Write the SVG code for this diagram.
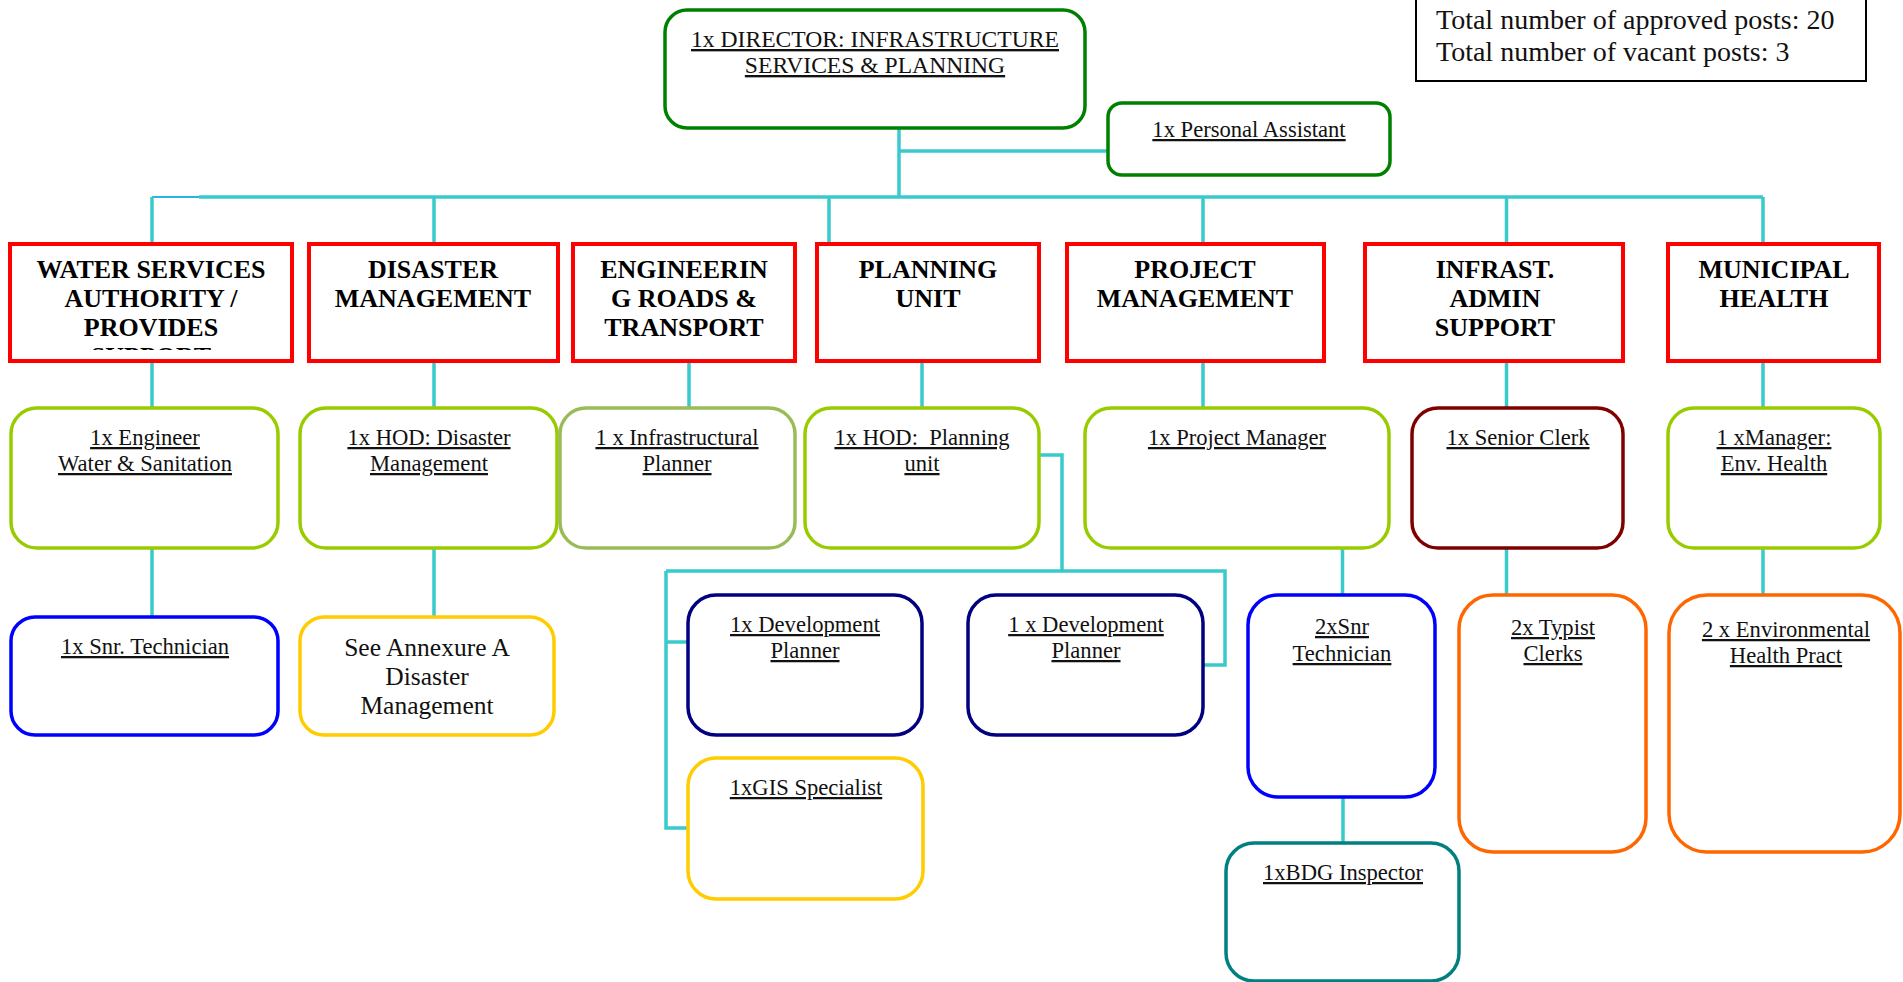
<svg xmlns="http://www.w3.org/2000/svg" width="1903" height="982" viewBox="0 0 1903 982">
  <defs>
    <style>
      .bg { fill: #ffffff; }
      .link { fill: none; stroke: #38cacd; stroke-width: 3.5; }
      .link-thin { fill: none; stroke: #2ab4e4; stroke-width: 2; }
      .unit { fill: #ffffff; stroke: #ff0000; stroke-width: 4; }
      .post { fill: #ffffff; stroke-width: 3.5; }
      .unit-label { font-family: "Liberation Serif", "Times New Roman", serif; font-weight: bold; font-size: 26px; fill: #000000; text-anchor: middle; }
      .post-label { font-family: "Liberation Serif", "Times New Roman", serif; font-size: 22.6px; fill: #111111; text-anchor: middle; text-decoration: underline; }
      .head-label { font-family: "Liberation Serif", "Times New Roman", serif; font-size: 23.6px; fill: #111111; text-anchor: middle; text-decoration: underline; }
      .plain-label { font-family: "Liberation Serif", "Times New Roman", serif; font-size: 25.5px; fill: #111111; text-anchor: middle; }
      .totals { font-family: "Liberation Serif", "Times New Roman", serif; font-size: 28px; fill: #111111; }
    </style>
    <clipPath id="water-clip">
      <rect x="10" y="244" width="282" height="106"/>
    </clipPath>
  </defs>

  <rect class="bg" x="0" y="0" width="1903" height="982"/>

  <!-- connectors -->
  <g id="connectors">
    <path class="link" d="M899 128 V197"/>
    <path class="link" d="M899 151 H1108"/>
    <path class="link" d="M199 197 H1763"/>
    <path class="link-thin" d="M199 197 H152"/>
    <path class="link" d="M152 197 V244"/>
    <path class="link" d="M434 197 V244"/>
    <path class="link" d="M829 197 V244"/>
    <path class="link" d="M1203 197 V244"/>
    <path class="link" d="M1506.5 197 V244"/>
    <path class="link" d="M1763 197 V244"/>

    <path class="link" d="M152 361 V408"/>
    <path class="link" d="M434 361 V408"/>
    <path class="link" d="M689 361 V408"/>
    <path class="link" d="M922 361 V408"/>
    <path class="link" d="M1203 361 V408"/>
    <path class="link" d="M1506.5 361 V408"/>
    <path class="link" d="M1763 361 V408"/>

    <path class="link" d="M152 548 V617"/>
    <path class="link" d="M434 548 V617"/>
    <path class="link" d="M1342.5 548 V595"/>
    <path class="link" d="M1506.5 548 V595"/>
    <path class="link" d="M1763 548 V595"/>

    <path class="link" d="M1039 455 H1062 V571"/>
    <path class="link" d="M666 571 H1225 V665 H1203"/>
    <path class="link" d="M666 571 V828 H688"/>
    <path class="link" d="M666 642 H688"/>

    <path class="link" d="M1343 797 V843"/>
  </g>

  <!-- summary box -->
  <g id="totals">
    <rect x="1416" y="-2" width="450" height="83" fill="#ffffff" stroke="#000000" stroke-width="2"/>
    <text class="totals" x="1436" y="29">Total number of approved posts: 20</text>
    <text class="totals" x="1436" y="61">Total number of vacant posts: 3</text>
  </g>

  <!-- top level -->
  <g id="director">
    <rect class="post" x="665" y="10" width="420" height="118" rx="22" stroke="#008000"/>
    <text class="head-label" x="875" y="47">1x DIRECTOR: INFRASTRUCTURE</text>
    <text class="head-label" x="875" y="73">SERVICES &amp; PLANNING</text>
  </g>

  <g id="personal-assistant">
    <rect class="post" x="1108" y="103" width="282" height="72" rx="14" stroke="#008000"/>
    <text class="post-label" x="1249" y="137">1x Personal Assistant</text>
  </g>

  <!-- units -->
  <g id="unit-water">
    <rect class="unit" x="10" y="244" width="282" height="117"/>
    <text class="unit-label" x="151" y="278">WATER SERVICES</text>
    <text class="unit-label" x="151" y="307">AUTHORITY /</text>
    <text class="unit-label" x="151" y="336">PROVIDES</text>
    <text class="unit-label" x="151" y="365" clip-path="url(#water-clip)">SUPPORT</text>
  </g>

  <g id="unit-disaster">
    <rect class="unit" x="309" y="244" width="249" height="117"/>
    <text class="unit-label" x="433" y="278">DISASTER</text>
    <text class="unit-label" x="433" y="307">MANAGEMENT</text>
  </g>

  <g id="unit-engineering">
    <rect class="unit" x="573" y="244" width="222" height="117"/>
    <text class="unit-label" x="684" y="278" font-size="27">ENGINEERIN</text>
    <text class="unit-label" x="684" y="307" font-size="27">G ROADS &amp;</text>
    <text class="unit-label" x="684" y="336" font-size="27">TRANSPORT</text>
  </g>

  <g id="unit-planning">
    <rect class="unit" x="817" y="244" width="222" height="117"/>
    <text class="unit-label" x="928" y="278" font-size="27">PLANNING</text>
    <text class="unit-label" x="928" y="307" font-size="27">UNIT</text>
  </g>

  <g id="unit-project">
    <rect class="unit" x="1067" y="244" width="257" height="117"/>
    <text class="unit-label" x="1195" y="278">PROJECT</text>
    <text class="unit-label" x="1195" y="307">MANAGEMENT</text>
  </g>

  <g id="unit-admin">
    <rect class="unit" x="1365" y="244" width="258" height="117"/>
    <text class="unit-label" x="1495" y="278">INFRAST.</text>
    <text class="unit-label" x="1495" y="307">ADMIN</text>
    <text class="unit-label" x="1495" y="336">SUPPORT</text>
  </g>

  <g id="unit-health">
    <rect class="unit" x="1668" y="244" width="211" height="117"/>
    <text class="unit-label" x="1774" y="278">MUNICIPAL</text>
    <text class="unit-label" x="1774" y="307">HEALTH</text>
  </g>

  <!-- second level posts -->
  <g id="engineer">
    <rect class="post" x="11" y="408" width="267" height="140" rx="26" stroke="#99cc00"/>
    <text class="post-label" x="145" y="445">1x Engineer</text>
    <text class="post-label" x="145" y="471">Water &amp; Sanitation</text>
  </g>

  <g id="hod-disaster">
    <rect class="post" x="300" y="408" width="257" height="140" rx="26" stroke="#99cc00"/>
    <text class="post-label" x="429" y="445">1x HOD: Disaster</text>
    <text class="post-label" x="429" y="471">Management</text>
  </g>

  <g id="infra-planner">
    <rect class="post" x="560" y="408" width="235" height="140" rx="26" stroke="#9bbb59"/>
    <text class="post-label" x="677" y="445">1 x Infrastructural</text>
    <text class="post-label" x="677" y="471">Planner</text>
  </g>

  <g id="hod-planning">
    <rect class="post" x="805" y="408" width="234" height="140" rx="26" stroke="#99cc00"/>
    <text class="post-label" x="922" y="445" xml:space="preserve">1x HOD:  Planning</text>
    <text class="post-label" x="922" y="471">unit</text>
  </g>

  <g id="project-manager">
    <rect class="post" x="1085" y="408" width="304" height="140" rx="26" stroke="#99cc00"/>
    <text class="post-label" x="1237" y="445">1x Project Manager</text>
  </g>

  <g id="senior-clerk">
    <rect class="post" x="1412" y="408" width="211" height="140" rx="26" stroke="#800000"/>
    <text class="post-label" x="1518" y="445">1x Senior Clerk</text>
  </g>

  <g id="env-health-manager">
    <rect class="post" x="1668" y="408" width="212" height="140" rx="26" stroke="#99cc00"/>
    <text class="post-label" x="1774" y="445">1 xManager:</text>
    <text class="post-label" x="1774" y="471">Env. Health</text>
  </g>

  <!-- third level posts -->
  <g id="snr-technician">
    <rect class="post" x="11" y="617" width="267" height="118" rx="24" stroke="#0000ff"/>
    <text class="post-label" x="145" y="654">1x Snr. Technician</text>
  </g>

  <g id="annexure-a">
    <rect class="post" x="300" y="617" width="254" height="118" rx="24" stroke="#ffcc00"/>
    <text class="plain-label" x="427" y="656">See Annexure A</text>
    <text class="plain-label" x="427" y="685">Disaster</text>
    <text class="plain-label" x="427" y="714">Management</text>
  </g>

  <g id="dev-planner-1">
    <rect class="post" x="688" y="595" width="234" height="140" rx="28" stroke="#000080"/>
    <text class="post-label" x="805" y="632">1x Development</text>
    <text class="post-label" x="805" y="658">Planner</text>
  </g>

  <g id="dev-planner-2">
    <rect class="post" x="968" y="595" width="235" height="140" rx="28" stroke="#000080"/>
    <text class="post-label" x="1086" y="632">1 x Development</text>
    <text class="post-label" x="1086" y="658">Planner</text>
  </g>

  <g id="gis-specialist">
    <rect class="post" x="688" y="758" width="235" height="141" rx="28" stroke="#ffcc00"/>
    <text class="post-label" x="806" y="795">1xGIS Specialist</text>
  </g>

  <g id="snr-technicians">
    <rect class="post" x="1248" y="595" width="187" height="202" rx="30" stroke="#0000ff"/>
    <text class="post-label" x="1342" y="634">2xSnr</text>
    <text class="post-label" x="1342" y="661">Technician</text>
  </g>

  <g id="bdg-inspector">
    <rect class="post" x="1226" y="843" width="233" height="138" rx="28" stroke="#008080"/>
    <text class="post-label" x="1343" y="880">1xBDG Inspector</text>
  </g>

  <g id="typist-clerks">
    <rect class="post" x="1459" y="595" width="187" height="257" rx="34" stroke="#ff6600"/>
    <text class="post-label" x="1553" y="635">2x Typist</text>
    <text class="post-label" x="1553" y="661">Clerks</text>
  </g>

  <g id="env-health-practitioners">
    <rect class="post" x="1669" y="595" width="231" height="257" rx="38" stroke="#ff6600"/>
    <text class="post-label" x="1786" y="637">2 x Environmental</text>
    <text class="post-label" x="1786" y="663">Health Pract</text>
  </g>
</svg>
